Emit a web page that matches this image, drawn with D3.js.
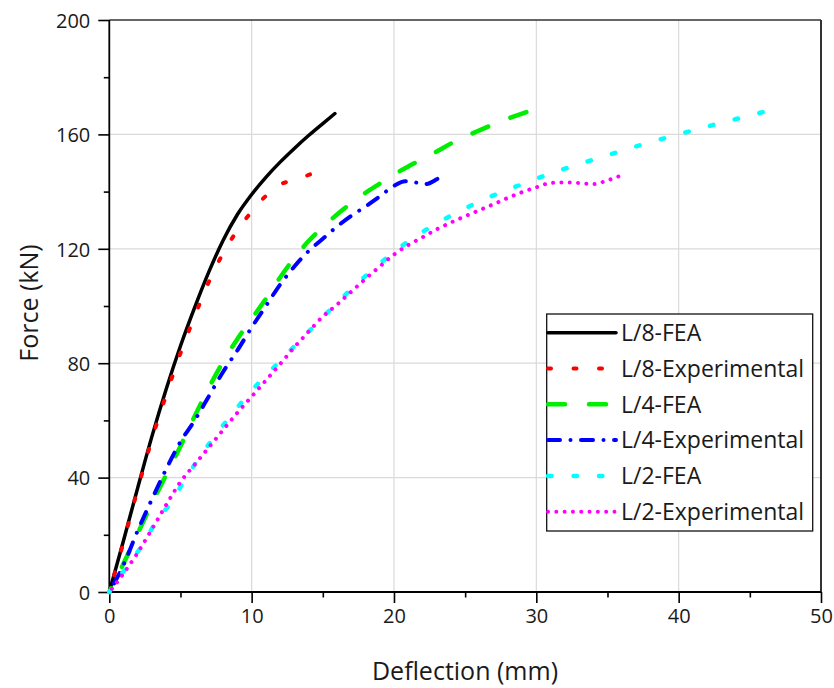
<!DOCTYPE html>
<html>
<head>
<meta charset="utf-8">
<script src="https://cdn.jsdelivr.net/npm/d3@7/dist/d3.min.js"></script>
<style>
  html, body { margin: 0; padding: 0; background: #fff; }
  svg { display: block; }
  text { font-family: "Open Sans", "DejaVu Sans", sans-serif; fill: #1a1a1a; }
</style>
</head>
<body>
<svg id="chart" width="834" height="688"></svg>
<script>
// ---------- data ----------
const xTicks = [0, 10, 20, 30, 40, 50];
const yTicks = [0, 40, 80, 120, 160, 200];
const xLabel = "Deflection (mm)";
const yLabel = "Force (kN)";

const seriesNames = ["L/8-FEA", "L/8-Experimental", "L/4-FEA", "L/4-Experimental", "L/2-FEA", "L/2-Experimental"];

const l8Fea = [[0,0],[1,18],[2,36.5],[3,54.5],[4,71],[5,86],[6,99.5],[7,112],[8,123],[9,132],[10,139],[11,145],[12,150.3],[13,155.1],[14,159.6],[15,163.8],[15.85,167.3]];
const l8Exp = [[0,0],[1,17.5],[2,36],[3,53.5],[4,69],[5,83.5],[6,96.5],[7,108.5],[8,118.5],[9,126.5],[10,133],[11,138.5],[12,142.5],[13,144],[14.1,146]];
const l4Fea = [[0,0],[1,10],[2,20.5],[3,31],[4,41],[5,51],[6,61.5],[7,71.5],[8,80.5],[9,88.5],[10,95.5],[11,102.5],[12,110],[13,116.8],[14,122.7],[15,127.6],[16,132],[17,136],[18,139.6],[19,142.8],[20,146],[21,148.8],[22,151.4],[23,154],[24,156.8],[25,159.2],[26,161.4],[27,163.5],[28,165.5],[29.3,167.8]];
const l4Exp = [[0,0],[1,9.5],[2,21.5],[3,32.5],[4,43],[5,52.5],[6,60],[7,68.5],[8,77],[9,84.5],[10,92.5],[11,100],[12,107.5],[13,113.8],[14,119.2],[15,123.5],[16,127.8],[17,131.5],[18,134.8],[19,138.3],[20,142],[20.8,143.6],[21.5,143.2],[22.2,142.6],[23,144.3],[23.65,146.5]];
const l2Fea = [[0,0],[0.4,3.1],[1.45,10.1],[2.4,17.1],[3.3,24.7],[4.4,31.7],[5.3,39.3],[6.25,46.3],[7.3,53.8],[8.4,60.8],[9.5,67.5],[10.7,74.2],[12,80.8],[13.2,87],[14.45,93.3],[15.7,99.6],[17,105.9],[18.3,111.8],[19.6,117.3],[21,122.6],[22.5,127.4],[24,131.6],[25.6,135.6],[27.3,139.3],[29,142.6],[30.6,145.6],[32.3,148.5],[34,151.2],[35.7,153.8],[37.4,156.4],[39.1,158.8],[40.8,161.1],[42.5,163.4],[44.2,165.6],[45.9,167.8]];
const l2Exp = [[0,0],[1,6.5],[2,13.8],[3,22],[4,30.5],[5,38.5],[6,44.6],[7,50.6],[8,56.7],[9,62.7],[10,68.3],[11,74],[12,79.7],[13,85.6],[14,91],[15,96.3],[16,100.5],[17,105],[18,109.5],[19,113.8],[20,118],[21,121.3],[22,124],[23,126.8],[24,129.2],[25,131.4],[26,133.5],[27,135.6],[28,137.8],[29,139.8],[30,141.5],[31,143],[32,143.2],[33,143],[34,142.6],[34.7,143.4],[35.5,144.8],[36.3,146.3]];

const seriesData = [l8Fea, l8Exp, l4Fea, l4Exp, l2Fea, l2Exp];

// ---------- styles ----------
// endAt: position inside the dash pattern that should fall on the end of the path
const styles = [
  { color: "#000000", width: 3.5, dash: null,                cap: "round", endAt: 0 },
  { color: "#ff0000", width: 4,   dash: "3,22.5",            cap: "round", endAt: 3 },
  { color: "#00ee00", width: 4.5, dash: "17,24",             cap: "round", endAt: 17 },
  { color: "#0000ff", width: 4,   dash: "12,10.5,0.01,10.5", cap: "round", endAt: 22.5 },
  { color: "#00ffff", width: 4.5, dash: "3.5,22",            cap: "round", endAt: 3.5 },
  { color: "#ff00ff", width: 4,   dash: "0.01,8.3",          cap: "round", endAt: 0 }
];

// ---------- layout ----------
const W = 834, H = 688;
const margin = { left: 109.3, right: 13, top: 20, bottom: 96 };
const svg = d3.select("#chart");

const x = d3.scaleLinear().domain([0, 50]).range([margin.left, W - margin.right]);
const y = d3.scaleLinear().domain([0, 200]).range([H - margin.bottom, margin.top]);

// grid
const grid = svg.append("g");
grid.selectAll("line.gx").data(xTicks.filter(d => d > 0 && d < 50)).join("line")
  .attr("x1", d => x(d)).attr("x2", d => x(d))
  .attr("y1", y(0)).attr("y2", y(200))
  .attr("stroke", "#dadada").attr("stroke-width", 1.2);
grid.selectAll("line.gy").data(yTicks.filter(d => d > 0 && d < 200)).join("line")
  .attr("y1", d => y(d)).attr("y2", d => y(d))
  .attr("x1", x(0)).attr("x2", x(50))
  .attr("stroke", "#dadada").attr("stroke-width", 1.2);

// frame (top & right)
svg.append("line").attr("x1", x(0)).attr("x2", x(50)).attr("y1", y(200)).attr("y2", y(200))
  .attr("stroke", "#333").attr("stroke-width", 1.6);
svg.append("line").attr("x1", x(50)).attr("x2", x(50)).attr("y1", y(200)).attr("y2", y(0))
  .attr("stroke", "#333").attr("stroke-width", 2);

// axes
const xAxis = d3.axisBottom(x).tickValues(d3.range(0, 51, 5)).tickSize(0).tickFormat("");
const gx = svg.append("g").attr("transform", `translate(0,${y(0)})`).call(xAxis);
gx.select(".domain").remove();
gx.selectAll(".tick line").remove();
gx.selectAll(".tick").append("line")
  .attr("y1", 0).attr("y2", d => (d % 10 === 0 ? 11 : 5.5))
  .attr("stroke", "#000").attr("stroke-width", 1.6);
gx.selectAll(".tick").filter(d => xTicks.includes(d)).append("text")
  .attr("y", 31).attr("text-anchor", "middle").attr("font-size", 20)
  .text(d => d);

const yAxis = d3.axisLeft(y).tickValues(d3.range(0, 201, 20)).tickSize(0).tickFormat("");
const gy = svg.append("g").attr("transform", `translate(${x(0)},0)`).call(yAxis);
gy.select(".domain").remove();
gy.selectAll(".tick line").remove();
gy.selectAll(".tick").append("line")
  .attr("x1", 0).attr("x2", d => (d % 40 === 0 ? -11 : -5.5))
  .attr("stroke", "#000").attr("stroke-width", 1.6);
gy.selectAll(".tick").filter(d => yTicks.includes(d)).append("text")
  .attr("x", -19).attr("dy", "0.36em").attr("text-anchor", "end").attr("font-size", 20)
  .text(d => d);

svg.append("line").attr("x1", x(0)).attr("x2", x(50)).attr("y1", y(0)).attr("y2", y(0))
  .attr("stroke", "#000").attr("stroke-width", 1.8);
svg.append("line").attr("x1", x(0)).attr("x2", x(0)).attr("y1", y(0)).attr("y2", y(200))
  .attr("stroke", "#000").attr("stroke-width", 1.8);

// axis titles
svg.append("text").attr("x", 465).attr("y", 680).attr("text-anchor", "middle")
  .attr("font-size", 25).text(xLabel);
svg.append("text").attr("transform", `translate(38,303) rotate(-90)`)
  .attr("text-anchor", "middle").attr("font-size", 25).text(yLabel);

// series
const line = d3.line().x(d => x(d[0])).y(d => y(d[1])).curve(d3.curveMonotoneX);
const plot = svg.append("g");
seriesData.forEach((data, i) => {
  const s = styles[i];
  const p = plot.append("path").datum(data)
    .attr("d", line)
    .attr("fill", "none")
    .attr("stroke", s.color)
    .attr("stroke-width", s.width)
    .attr("stroke-linecap", s.cap)
    .attr("stroke-linejoin", "round")
    .attr("stroke-dasharray", s.dash);
  if (s.dash) {
    const period = d3.sum(s.dash.split(",").map(Number));
    const L = p.node().getTotalLength();
    const off = (((s.endAt - L) % period) + period) % period;
    p.attr("stroke-dashoffset", off);
  }
});

// legend
const lg = svg.append("g");
lg.append("rect").attr("x", 546.7).attr("y", 314).attr("width", 266).attr("height", 217)
  .attr("fill", "#fff").attr("stroke", "#111").attr("stroke-width", 1.3);
const rowY = i => 332.7 + i * 35.8;
seriesNames.forEach((name, i) => {
  const s = styles[i];
  lg.append("line").attr("x1", 548).attr("x2", 616).attr("y1", rowY(i)).attr("y2", rowY(i))
    .attr("stroke", s.color).attr("stroke-width", s.width)
    .attr("stroke-linecap", s.cap).attr("stroke-dasharray", s.dash);
  lg.append("text").attr("x", 621).attr("y", rowY(i)).attr("dy", "0.36em")
    .attr("font-size", 23).text(name);
});
</script>
</body>
</html>
